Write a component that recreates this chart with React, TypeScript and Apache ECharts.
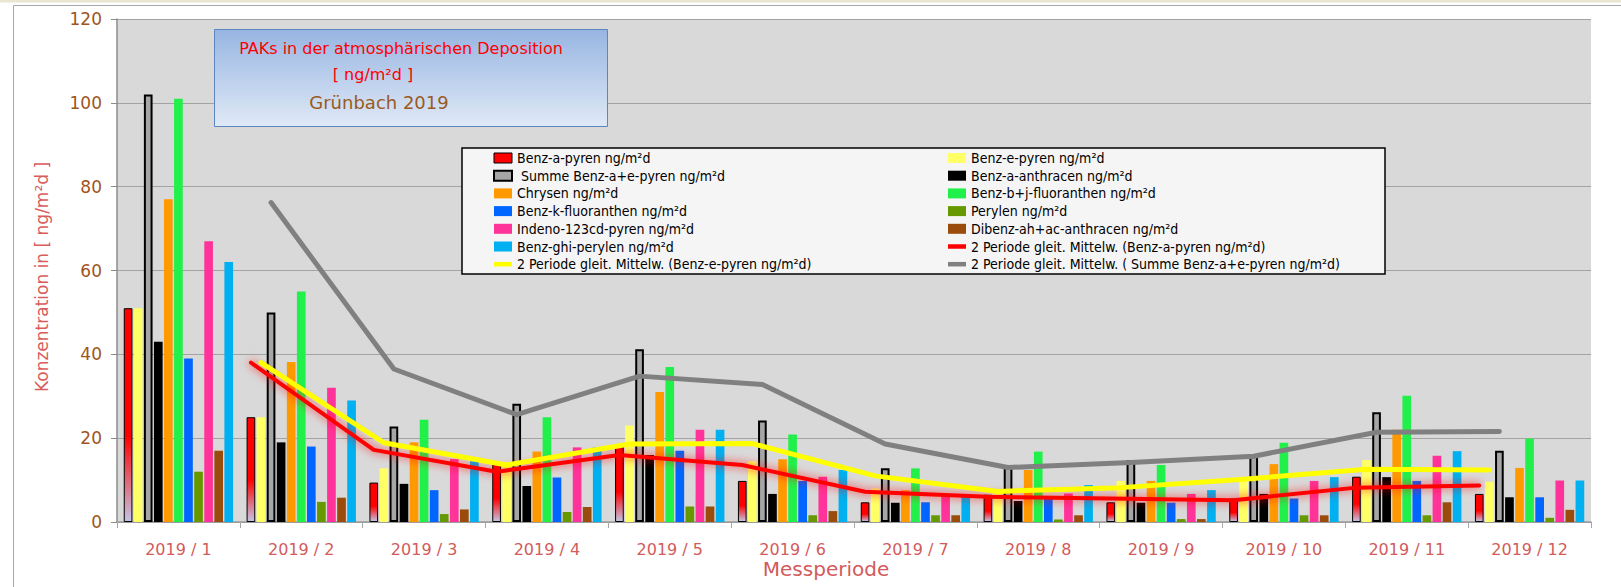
import React, { useEffect, useRef } from "react";
import * as echarts from "echarts";

const categories = [
  "2019 / 1", "2019 / 2", "2019 / 3", "2019 / 4", "2019 / 5", "2019 / 6",
  "2019 / 7", "2019 / 8", "2019 / 9", "2019 / 10", "2019 / 11", "2019 / 12",
];
const yTicks = [0, 20, 40, 60, 80, 100, 120];

const benzAPyren = [51, 25, 9.4, 14, 18, 9.8, 4.7, 6.5, 4.7, 5.6, 10.8, 6.7];
const benzEPyren = [51, 25, 12.8, 14.2, 23, 14.5, 8, 6.8, 9.8, 10.5, 14.8, 9.6];
const summeBenzAE = [102, 50, 22.8, 28.2, 41.2, 24.2, 12.8, 13.3, 14.8, 16.2, 26.2, 17];
const benzAAnthracen = [43, 19, 9.1, 8.6, 16, 6.7, 4.6, 5, 4.6, 6.7, 10.7, 5.9];
const chrysen = [77, 38.2, 19, 16.8, 31, 15, 7.6, 12.4, 9.8, 13.8, 22, 12.9];
const benzBJFluoranthen = [101, 55, 24.4, 25, 37, 20.9, 12.8, 16.8, 13.6, 18.9, 30.1, 19.9];
const benzKFluoranthen = [39, 18, 7.6, 10.6, 17, 9.8, 4.7, 5.5, 4.6, 5.6, 9.8, 5.9];
const perylen = [12, 4.8, 1.9, 2.4, 3.7, 1.6, 1.6, 0.6, 0.7, 1.6, 1.6, 1.0];
const indeno123cdPyren = [67, 32, 15, 17.8, 22, 10.8, 6.5, 6.8, 6.7, 9.8, 15.8, 9.9];
const dibenzAnthracen = [17, 5.8, 3, 3.6, 3.7, 2.6, 1.6, 1.6, 0.7, 1.6, 4.7, 2.9];
const benzGhiPerylen = [62, 29, 14.5, 17.8, 22, 12.4, 6.7, 8.8, 7.6, 10.7, 16.9, 9.9];

// 2-period moving averages (trend lines)
const maBenzAPyren = [null, 38, 17.2, 12, 16, 13.6, 7.2, 6, 5.6, 5.2, 8.2, 8.7];
const maBenzEPyren = [null, 38, 18.9, 13.6, 18.6, 18.7, 11, 7.3, 8.2, 10.2, 12.6, 12.4];
const maSumme = [null, 76.2, 36.5, 25.6, 34.8, 32.8, 18.6, 13, 14.2, 15.7, 21.4, 21.6];

const N_BARS = 11;
const BAR_CAT_GAP = 0.11;
const BAR_GAP = 0.16;

function barCenter(k: number) {
  const w = (1 - BAR_CAT_GAP) / (N_BARS + (N_BARS - 1) * BAR_GAP);
  return BAR_CAT_GAP / 2 + (k * (1 + BAR_GAP) + 0.5) * w;
}

const LEGEND_FONT = "'Liberation Sans Narrow', 'DejaVu Sans Condensed', 'Arial Narrow', sans-serif";
const MAIN_FONT = "'DejaVu Sans', Verdana, sans-serif";

const lineIcon = "path://M0,0 L20,0 L20,5 L0,5 Z";

export default function App() {
  const ref = useRef<HTMLDivElement>(null);

  useEffect(() => {
    if (!ref.current) return;
    const chart = echarts.init(ref.current, undefined, { renderer: "svg" });

    const barDefs = [
      {
        name: "Benz-a-pyren ng/m²d",
        data: benzAPyren,
        itemStyle: {
          color: new echarts.graphic.LinearGradient(0, 0, 0, 1, [
            { offset: 0, color: "#ff0000" },
            { offset: 0.6, color: "#ff0000" },
            { offset: 1, color: "#c4c4e6" },
          ]),
          borderColor: "#000000",
          borderWidth: 1,
        },
        legendStyle: { color: "#ff0000", borderColor: "#000", borderWidth: 1 },
      },
      { name: "Benz-e-pyren ng/m²d", data: benzEPyren, itemStyle: { color: "#ffff66" } },
      {
        name: " Summe Benz-a+e-pyren ng/m²d",
        data: summeBenzAE,
        itemStyle: { color: "#a6a6a6", borderColor: "#000000", borderWidth: 2 },
        legendStyle: { color: "#a6a6a6", borderColor: "#000", borderWidth: 2 },
      },
      { name: "Benz-a-anthracen ng/m²d", data: benzAAnthracen, itemStyle: { color: "#000000" } },
      { name: "Chrysen ng/m²d", data: chrysen, itemStyle: { color: "#ff9900" } },
      { name: "Benz-b+j-fluoranthen ng/m²d", data: benzBJFluoranthen, itemStyle: { color: "#22f04a" } },
      { name: "Benz-k-fluoranthen ng/m²d", data: benzKFluoranthen, itemStyle: { color: "#0066ff" } },
      { name: "Perylen ng/m²d", data: perylen, itemStyle: { color: "#669900" } },
      { name: "Indeno-123cd-pyren ng/m²d", data: indeno123cdPyren, itemStyle: { color: "#ff3399" } },
      { name: "Dibenz-ah+ac-anthracen ng/m²d", data: dibenzAnthracen, itemStyle: { color: "#994c0c" } },
      { name: "Benz-ghi-perylen ng/m²d", data: benzGhiPerylen, itemStyle: { color: "#00b0f0" } },
    ];

    const lineDefs = [
      {
        name: "2 Periode gleit. Mittelw. (Benz-a-pyren ng/m²d)",
        data: maBenzAPyren,
        k: 0,
        color: "#ff0000",
        width: 4,
        glow: true,
      },
      {
        name: "2 Periode gleit. Mittelw. (Benz-e-pyren ng/m²d)",
        data: maBenzEPyren,
        k: 1,
        color: "#ffff00",
        width: 5,
        glow: false,
      },
      {
        name: "2 Periode gleit. Mittelw. ( Summe Benz-a+e-pyren ng/m²d)",
        data: maSumme,
        k: 2,
        color: "#808080",
        width: 5,
        glow: false,
      },
    ];

    const series: any[] = barDefs.map((b, i) => ({
      type: "bar",
      name: b.name,
      data: b.data,
      xAxisIndex: 0,
      yAxisIndex: 0,
      itemStyle: b.itemStyle,
      barCategoryGap: i === 0 ? BAR_CAT_GAP * 100 + "%" : undefined,
      barGap: i === 0 ? BAR_GAP * 100 + "%" : undefined,
      z: 2,
    }));

    lineDefs.forEach((l) => {
      const pts: any[] = [];
      l.data.forEach((v, i) => {
        if (v != null) pts.push([i + barCenter(l.k), v]);
      });
      series.push({
        type: "line",
        name: l.name,
        data: pts,
        xAxisIndex: 1,
        yAxisIndex: 0,
        showSymbol: false,
        symbol: "none",
        itemStyle: { color: l.color },
        lineStyle: {
          color: l.color,
          width: l.width,
          cap: "round",
          join: "round",
          ...(l.glow ? { shadowBlur: 10, shadowColor: "rgba(255,0,0,0.8)" } : {}),
        },
        z: 5,
      });
    });

    const legendItem = (name: string) => {
      const b = barDefs.find((x) => x.name === name) as any;
      if (b) {
        return {
          name,
          icon: "rect",
          itemStyle: b.legendStyle || { color: b.itemStyle.color, borderWidth: 0 },
        };
      }
      const l = lineDefs.find((x) => x.name === name)!;
      return { name, icon: lineIcon, itemStyle: { color: l.color, borderWidth: 0 } };
    };

    const leftCol = [
      barDefs[0].name, barDefs[2].name, barDefs[4].name, barDefs[6].name,
      barDefs[8].name, barDefs[10].name, lineDefs[1].name,
    ];
    const rightCol = [
      barDefs[1].name, barDefs[3].name, barDefs[5].name, barDefs[7].name,
      barDefs[9].name, lineDefs[0].name, lineDefs[2].name,
    ];

    const legendCommon = {
      orient: "vertical",
      top: 151,
      itemWidth: 18,
      itemHeight: 10,
      itemGap: 3.7,
      padding: 0,
      selectedMode: false,
      z: 100,
      textStyle: { fontFamily: LEGEND_FONT, fontSize: 14, color: "#000", lineHeight: 14 },
    };

    const option: any = {
      animation: false,
      backgroundColor: "#ffffff",
      textStyle: { fontFamily: MAIN_FONT },
      grid: {
        left: 117,
        right: 30,
        top: 19,
        bottom: 65,
        show: true,
        backgroundColor: "#d9d9d9",
        borderWidth: 0,
      },
      xAxis: [
        {
          type: "category",
          data: categories,
          boundaryGap: true,
          axisLine: { show: true, lineStyle: { color: "#9a9a9a", width: 1.5 } },
          axisTick: { show: true, interval: 0, length: 6, lineStyle: { color: "#a6a6a6" } },
          axisLabel: {
            interval: 0,
            color: "#d25b5b",
            fontSize: 16,
            margin: 19,
            fontFamily: MAIN_FONT,
          },
          splitLine: { show: false },
        },
        { type: "value", min: 0, max: 12, show: false },
      ],
      yAxis: {
        type: "value",
        min: 0,
        max: 120,
        interval: 20,
        axisLine: { show: true, lineStyle: { color: "#8c8c8c", width: 1.5 } },
        axisTick: { show: true, length: 6, lineStyle: { color: "#8c8c8c" } },
        axisLabel: {
          color: "#a0541e",
          fontSize: 17,
          margin: 15,
          fontFamily: MAIN_FONT,
          formatter: (v: number) => (yTicks.indexOf(v) >= 0 ? String(v) : ""),
        },
        splitLine: { show: true, lineStyle: { color: "#a3a3a3", width: 1 } },
      },
      legend: [
        { ...legendCommon, left: 493, data: leftCol.map(legendItem) },
        { ...legendCommon, left: 948, data: rightCol.map(legendItem) },
      ],
      graphic: [
        { type: "rect", z: 40, silent: true, shape: { x: 0, y: 0, width: 1621, height: 2.5 }, style: { fill: "#ebe5d3" } },
        {
          type: "rect",
          z: 40,
          silent: true,
          shape: { x: 13.5, y: 5.5, width: 1700, height: 700 },
          style: { fill: "none", stroke: "#a8a8a8", lineWidth: 1 },
        },
        {
          type: "rect",
          z: 50,
          silent: true,
          shape: { x: 214.5, y: 29.5, width: 393, height: 97 },
          style: {
            fill: new echarts.graphic.LinearGradient(0, 0, 0, 1, [
              { offset: 0, color: "#97b5e2" },
              { offset: 1, color: "#e0e9f6" },
            ]),
            stroke: "#5b86c2",
            lineWidth: 1,
          },
        },
        {
          type: "text",
          z: 51,
          silent: true,
          x: 401,
          y: 48.5,
          style: {
            text: "PAKs in der atmosphärischen Deposition",
            fill: "#ff0000",
            font: `16px ${MAIN_FONT}`,
            align: "center",
            verticalAlign: "middle",
          },
        },
        {
          type: "text",
          z: 51,
          silent: true,
          x: 373,
          y: 74.5,
          style: {
            text: "[ ng/m²d ]",
            fill: "#ff0000",
            font: `16px ${MAIN_FONT}`,
            align: "center",
            verticalAlign: "middle",
          },
        },
        {
          type: "text",
          z: 51,
          silent: true,
          x: 379,
          y: 102,
          style: {
            text: "Grünbach 2019",
            fill: "#9a5a22",
            font: `18px ${MAIN_FONT}`,
            align: "center",
            verticalAlign: "middle",
          },
        },
        {
          type: "rect",
          z: 50,
          silent: true,
          shape: { x: 462, y: 148, width: 923, height: 126 },
          style: { fill: "#f5f5f5", stroke: "#000000", lineWidth: 1.5 },
        },
        {
          type: "text",
          z: 51,
          silent: true,
          x: 42,
          y: 277,
          rotation: Math.PI / 2,
          style: {
            text: "Konzentration in [ ng/m²d ]",
            fill: "#d95c5c",
            font: `17px ${MAIN_FONT}`,
            align: "center",
            verticalAlign: "middle",
          },
        },
        {
          type: "text",
          z: 51,
          silent: true,
          x: 826,
          y: 569,
          style: {
            text: "Messperiode",
            fill: "#d25b5b",
            font: `20px ${MAIN_FONT}`,
            align: "center",
            verticalAlign: "middle",
          },
        },
      ],
      series,
    };

    chart.setOption(option);
    return () => chart.dispose();
  }, []);

  return (
    <div
      ref={ref}
      style={{ position: "fixed", left: 0, top: 0, width: 1621, height: 587, background: "#fff" }}
    />
  );
}
